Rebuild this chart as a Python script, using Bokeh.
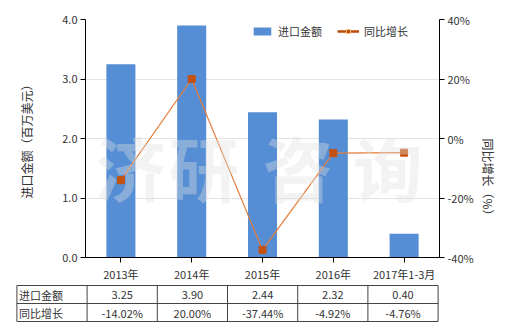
import math
from bokeh.plotting import figure
from bokeh.models import (Range1d, LinearAxis, FixedTicker, PrintfTickFormatter,
                          ColumnDataSource, Legend, LegendItem, Label)
from bokeh.layouts import column
from bokeh.embed import file_html
from bokeh.resources import INLINE
from bokeh.core.properties import value

# ---- data ----
categories = ["2013年", "2014年", "2015年", "2016年", "2017年1-3月"]
import_values = [3.25, 3.90, 2.44, 2.32, 0.40]
growth_pct = [-14.02, 20.00, -37.44, -4.92, -4.76]
bar_name = "进口金额"
line_name = "同比增长"
left_title = "进口金额（百万美元）"
right_title = "同比增长（%）"
watermark = "济研咨询"

FONT = "Noto Sans CJK SC"
TXT = "#333333"
BAR = "#558ed5"
LINE = "#e57c3a"
MARK = "#c5510f"

# ---- main chart ----
p = figure(width=520, height=284, x_range=categories, y_range=Range1d(0, 4),
           output_backend="svg", toolbar_location=None,
           min_border_left=85, min_border_right=81, min_border_top=19,
           min_border_bottom=25)
p.frame_align = False
p.extra_y_ranges = {"pct": Range1d(-40, 40)}
p.outline_line_color = None
p.background_fill_color = "white"
p.border_fill_color = "white"

src = ColumnDataSource(dict(cat=categories, v=import_values, g=growth_pct))

# watermark
wm_x = [0.64, 1.67, 3.0, 4.27]
for ch, xx in zip(watermark, wm_x):
    p.add_layout(Label(x=xx, y=1.53, text=ch, text_font=FONT, text_font_size="70px",
                       text_font_style="bold", text_color="#e0e0e0", text_alpha=0.38,
                       text_align="center", text_baseline="middle"))

bars = p.vbar(x="cat", top="v", width=0.41, source=src, fill_color=BAR,
              line_color=None)
ln = p.line(x="cat", y="g", source=src, y_range_name="pct", line_color=LINE,
            line_width=1.2)
mk = p.scatter(x="cat", y="g", source=src, y_range_name="pct", marker="square",
               size=7, fill_color=MARK, line_color=MARK)

# legend-only renderers (nothing drawn in the plot)
dummy = ColumnDataSource(dict(cat=[categories[0]], g=[float("nan")]))
lg_line = p.line(x="cat", y="g", source=dummy, y_range_name="pct",
                 line_color="#c04a08", line_width=2.5)
lg_mark = p.scatter(x="cat", y="g", source=dummy, y_range_name="pct",
                    marker="square", size=6, fill_color="#c04a08",
                    line_color="#f4c080")

legend = Legend(items=[LegendItem(label=bar_name, renderers=[bars]),
                       LegendItem(label=line_name, renderers=[lg_line, lg_mark])],
                orientation="horizontal", location=(166, 218),
                border_line_color=None, background_fill_alpha=0,
                glyph_width=22, glyph_height=10, label_standoff=5, spacing=15,
                padding=0, margin=0, label_text_font=FONT,
                label_text_font_size="11px", label_text_color=TXT)
p.add_layout(legend)

# left axis
ax = p.yaxis[0]
ax.ticker = FixedTicker(ticks=[0, 1, 2, 3, 4])
ax.formatter = PrintfTickFormatter(format="%.1f")
ax.axis_label = left_title
ax.axis_label_standoff = 24

# right axis
rax = LinearAxis(y_range_name="pct", ticker=FixedTicker(ticks=[-40, -20, 0, 20, 40]),
                 formatter=PrintfTickFormatter(format="%d%%"), axis_label=right_title)
rax.axis_label_standoff = 12
rax.axis_label_orientation = -math.pi / 2
p.add_layout(rax, "right")

for a in [ax, rax, p.xaxis[0]]:
    a.axis_line_color = "black"
    a.major_tick_line_color = "black"
    a.minor_tick_line_color = None
    a.major_tick_out = 5
    a.major_tick_in = 0
    a.major_label_text_font = FONT
    a.major_label_text_font_size = "11px"
    a.major_label_text_color = TXT
    a.axis_label_text_font = FONT
    a.axis_label_text_font_size = "12px"
    a.axis_label_text_font_style = "normal"
    a.axis_label_text_color = TXT
    a.major_label_standoff = 3

p.xgrid.grid_line_color = None
p.ygrid.grid_line_color = "#e4e4e4"
p.ygrid.ticker = FixedTicker(ticks=[1, 2, 3, 4])

# ---- data table below ----
t = figure(width=520, height=46, x_range=Range1d(-1.02, 5.02), y_range=Range1d(46, 0),
           output_backend="svg", toolbar_location=None,
           min_border_left=15, min_border_right=81, min_border_top=0,
           min_border_bottom=0)
t.frame_align = False
t.axis.visible = False
t.grid.visible = False
t.outline_line_color = None
t.border_fill_color = "white"

n = len(categories)
row_y = [1, 19, 37]
t.segment(x0=[-1] * 3, x1=[n] * 3, y0=row_y, y1=row_y, line_color="#444444",
          line_width=1)
vx = list(range(-1, n + 1))
t.segment(x0=vx, x1=vx, y0=[1] * len(vx), y1=[37] * len(vx), line_color="#444444",
          line_width=1)

centers = [i + 0.5 for i in range(n)]
t.text(x=centers, y=[10] * n, text=["%.2f" % v for v in import_values],
       text_align="center", text_baseline="middle", text_font=value(FONT),
       text_font_size="11px", text_color=TXT)
t.text(x=centers, y=[28] * n, text=["%.2f%%" % g for g in growth_pct],
       text_align="center", text_baseline="middle", text_font=value(FONT),
       text_font_size="11px", text_color=TXT)
t.text(x=[-1, -1], y=[10, 28], text=[bar_name, line_name], x_offset=2,
       text_align="left", text_baseline="middle", text_font=value(FONT),
       text_font_size="11px", text_color=TXT)

layout = column(p, t, spacing=0)
open("out.html", "w").write(file_html(layout, INLINE))
